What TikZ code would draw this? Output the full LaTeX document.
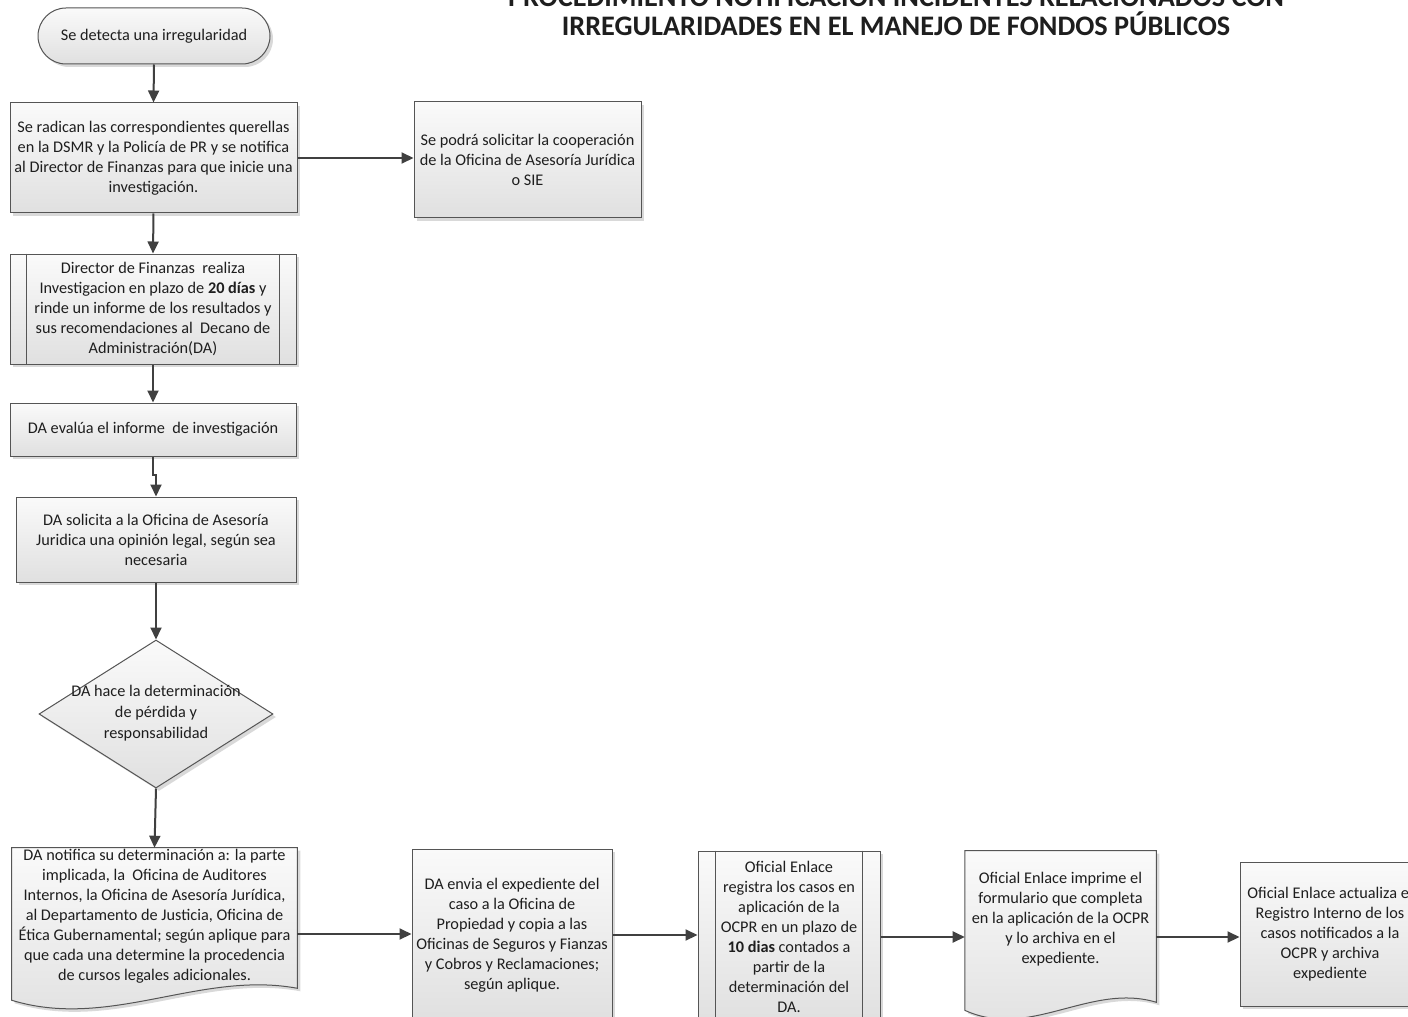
\documentclass[tikz,border=0pt]{standalone}
\usepackage{fontspec}
\setmainfont{Carlito}
\usetikzlibrary{shapes.geometric,arrows.meta,shadows,calc,backgrounds}
\newdimen\px \px=0.75pt
\definecolor{boxc}{RGB}{85,85,85}
\definecolor{arrc}{RGB}{64,64,64}
\definecolor{fillt}{RGB}{250,250,250}
\definecolor{fillb}{RGB}{224,224,224}
\definecolor{txtc}{RGB}{30,30,30}
\tikzset{
  shd/.style={drop shadow={shadow xshift=2.25pt, shadow yshift=-2.25pt, fill=black, opacity=0.15}},
  txt/.style={inner sep=0pt, align=center, text=txtc, font=\fontsize{12.2}{15}\selectfont},
  box/.style={txt, draw=boxc, line width=0.75pt, top color=fillt, bottom color=fillb, shd},
  docnode/.style={txt},
  docshape/.style={draw=boxc, line width=0.75pt, top color=fillt, bottom color=fillb, shd},
  boxline/.style={draw=boxc, line width=0.75pt},
  arr/.style={draw=arrc, line width=1.5pt, -{Triangle[length=9pt,width=8.25pt]}},
  titlef/.style={inner sep=0pt, anchor=base, text=txtc, font=\fontsize{21.2}{25}\selectfont\bfseries}
}
\begin{document}
\begin{tikzpicture}[x=0.75pt, y=-0.75pt]
\begin{scope}[on background layer]
  \fill[white] (0,0) rectangle (1408,1016);
\end{scope}
\useasboundingbox (0,0) rectangle (1408,1016);

% title
\node[titlef] (t1) at (896,7) {PROCEDIMIENTO NOTIFICACIÓN INCIDENTES RELACIONADOS CON};
\node[titlef] (t2) at (896,36) {IRREGULARIDADES EN EL MANEJO DE FONDOS PÚBLICOS};

% left column
\node[box, rounded corners=21pt, minimum width=232\px, minimum height=56\px] (term) at (154,36) {Se detecta una irregularidad};
\node[box, minimum width=287\px, minimum height=110\px] (b1) at (153.5,158) {Se radican las correspondientes querellas\\en la DSMR y la Policía de PR y se notifica\\al Director de Finanzas para que inicie una\\investigación.};
\node[box, minimum width=227\px, minimum height=116\px] (b2) at (527.5,160) {Se podrá solicitar la cooperación\\de la Oficina de Asesoría Jurídica\\o SIE};
\node[box, minimum width=286\px, minimum height=110\px] (b3) at (153,309) {Director de Finanzas \ realiza\\Investigacion en plazo de \textbf{20 días} y\\rinde un informe de los resultados y\\sus recomendaciones al \ Decano de\\Administración(DA)};
\draw[boxline] ([xshift=12.75pt]b3.north west) -- ([xshift=12.75pt]b3.south west);
\draw[boxline] ([xshift=-12.75pt]b3.north east) -- ([xshift=-12.75pt]b3.south east);
\node[box, minimum width=286\px, minimum height=53\px] (b4) at (153,429.5) {DA evalúa el informe \ de investigación};
\node[box, minimum width=280\px, minimum height=85\px] (b5) at (156,539.5) {DA solicita a la Oficina de Asesoría\\Juridica una opinión legal, según sea\\necesaria};
\node[draw=boxc, line width=0.75pt, top color=fillt, bottom color=fillb, shd, diamond, inner sep=0pt, minimum width=234\px, minimum height=148\px] (dia) at (156,714) {};
\node[txt, font=\fontsize{12.2}{16}\selectfont] (diat) at (156,713) {DA hace la determinación\\de pérdida y\\responsabilidad};

% bottom row
\node[docnode, minimum width=285\px, minimum height=136\px] (d1) at (154.5,916) {DA notifica su determinación a: la parte\\implicada, la \ Oficina de Auditores\\Internos, la Oficina de Asesoría Jurídica,\\al Departamento de Justicia, Oficina de\\Ética Gubernamental; según aplique para\\que cada una determine la procedencia\\de cursos legales adicionales.};
\begin{scope}[on background layer]
\path[docshape] (d1.north west) -- (d1.north east) -- ([yshift=-3pt]d1.south east)
  .. controls +(-97,-18) and +(98,30) .. ([yshift=-12pt]d1.south west) -- cycle;
\end{scope}
\node[box, minimum width=200\px, minimum height=172\px] (b7) at (512,935) {DA envia el expediente del\\caso a la Oficina de\\Propiedad y copia a las\\Oficinas de Seguros y Fianzas\\y Cobros y Reclamaciones;\\según aplique.};
\node[box, minimum width=182\px, minimum height=172\px] (b8) at (789,937) {Oficial Enlace\\registra los casos en\\aplicación de la\\OCPR en un plazo de\\\textbf{10 dias} contados a\\partir de la\\determinación del\\DA.};
\draw[boxline] ([xshift=13.5pt]b8.north west) -- ([xshift=13.5pt]b8.south west);
\draw[boxline] ([xshift=-13.5pt]b8.north east) -- ([xshift=-13.5pt]b8.south east);
\node[docnode, minimum width=191\px, minimum height=136\px] (d2) at (1060.5,919) {Oficial Enlace imprime el\\formulario que completa\\en la aplicación de la OCPR\\y lo archiva en el\\expediente.};
\begin{scope}[on background layer]
\path[docshape] (d2.north west) -- (d2.north east) -- ([yshift=-11.25pt]d2.south east)
  .. controls +(-66,-20) and +(65,30) .. ([yshift=-17.25pt]d2.south west) -- cycle;
\end{scope}
\node[box, minimum width=180\px, minimum height=144\px] (b10) at (1330,934) {Oficial Enlace actualiza el\\Registro Interno de los\\casos notificados a la\\OCPR y archiva\\expediente};

% connectors
\draw[arr] (term.south) -- (b1.north);
\draw[arr] (b1.east) -- (b1.east -| b2.west);
\draw[arr] (b1.south) -- (b3.north);
\draw[arr] (b3.south) -- (b4.north);
\draw[arr] (b4.south) -- ++(0,18) -| (b5.north);
\draw[arr] (b5.south) -- (dia.north);
\draw[arr] (dia.south) -- (d1.north);
\coordinate (a1) at ($(d1.east)+(0,18)$);
\draw[arr] (a1) -- (a1 -| b7.west);
\draw[arr] (b7.east) -- (b7.east -| b8.west);
\draw[arr] (b8.east) -- (b8.east -| d2.west);
\draw[arr] (d2.east |- b8.east) -- (b10.west |- b8.east);
\end{tikzpicture}
\end{document}
